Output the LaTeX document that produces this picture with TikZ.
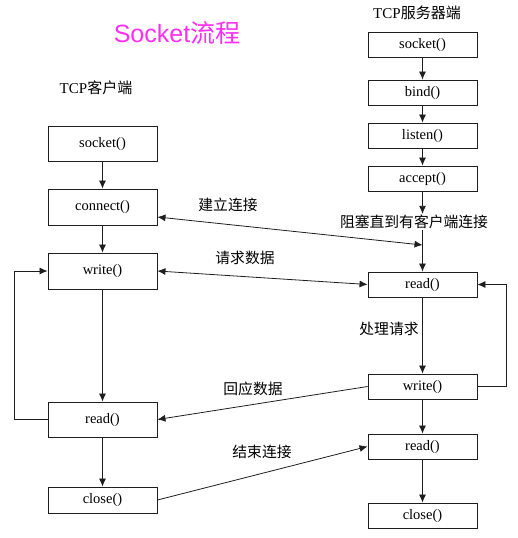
\documentclass[tikz,border=0pt]{standalone}
\usepackage{fontspec}
\setmainfont{Liberation Serif}
\setsansfont{Liberation Sans}
\newfontfamily\cjk{Noto Sans CJK SC}
\usetikzlibrary{arrows.meta}
\definecolor{titlemag}{RGB}{255,45,245}
\definecolor{ln}{RGB}{30,30,30}
\tikzset{
  box/.style={draw=ln, line width=0.9pt, minimum width=109pt, minimum height=25pt, inner sep=0pt, text height=7pt, text depth=0pt, font=\fontsize{14.5}{16}\selectfont},
  lbox/.style={box, minimum height=35pt},
  lab/.style={inner sep=1pt, font=\fontsize{14.8}{16}\selectfont\cjk},
  conn/.style={draw=ln, line width=0.8pt, -{Latex[length=8pt,width=7pt]}},
  biconn/.style={draw=ln, line width=0.8pt, {Latex[length=8pt,width=7pt]}-{Latex[length=8pt,width=7pt]}},
  plain/.style={draw=ln, line width=0.8pt}
}
\begin{document}
\begin{tikzpicture}[x=1pt,y=-1pt]
\useasboundingbox (0,0) rectangle (517,538);
% titles
\node[inner sep=0pt, text=titlemag, font=\fontsize{25}{28}\selectfont] (title) at (177,33) {\sffamily Socket\cjk 流程};
\node[inner sep=0pt, font=\fontsize{15}{17}\selectfont] (client) at (96,88) {TCP{\cjk 客户端}};
\node[inner sep=0pt, font=\fontsize{15}{17}\selectfont] (server) at (417,13) {TCP{\cjk 服务器端}};
% left column
\node[lbox] (lsocket) at (102.5,143.5) {socket()};
\node[lbox, minimum height=36pt] (lconnect) at (102.5,207) {connect()};
\node[lbox, minimum height=36pt] (lwrite) at (102.5,271) {write()};
\node[lbox] (lread) at (102.5,419.5) {read()};
\node[lbox, minimum height=26pt] (lclose) at (102.5,500) {close()};
% right column
\node[box] (rsocket) at (422.5,44.5) {socket()};
\node[box] (rbind) at (422.5,92.5) {bind()};
\node[box] (rlisten) at (422.5,135.5) {listen()};
\node[box] (raccept) at (422.5,178.5) {accept()};
\node[box] (rread) at (422.5,284.5) {read()};
\node[box] (rwrite) at (422.5,386.5) {write()};
\node[box] (rread2) at (422.5,446.5) {read()};
\node[box] (rclose) at (422.5,515.5) {close()};
% labels
\node[lab] (block) at (414,222) {阻塞直到有客户端连接};
\node[lab] (lbjl) at (228,205) {建立连接};
\node[lab] (lbqq) at (245,258) {请求数据};
\node[lab] (lbhy) at (253,389) {回应数据};
\node[lab] (lbjs) at (262,452) {结束连接};
\node[lab] (lbcl) at (389,329) {处理请求};
% left vertical arrows
\draw[conn] (lsocket) -- (lconnect);
\draw[conn] (lconnect) -- (lwrite);
\draw[conn] (lwrite) -- (lread);
\draw[conn] (lread) -- (lclose);
% right vertical arrows
\draw[conn] (rsocket) -- (rbind);
\draw[conn] (rbind) -- (rlisten);
\draw[conn] (rlisten) -- (raccept);
\draw[conn] (raccept.south) -- (raccept.south |- block.north);
\draw[conn] (raccept.south |- block.south) -- (rread.north);
\draw[conn] (rread) -- (rwrite);
\draw[conn] (rwrite) -- (rread2);
\draw[conn] (rread2) -- (rclose);
% cross connectors
\coordinate (cj) at (422.5,245);
\draw[biconn] ([yshift=-10pt]lconnect.east) -- (cj);
\draw[biconn] (lwrite.east) -- (rread.west);
\draw[conn] (rwrite.west) -- (lread.east);
\draw[conn] (lclose.east) -- (rread2.west);
% loops
\draw[conn] (lread.west) -- ++(-33,0) |- (lwrite.west);
\draw[conn] (rwrite.east) -- ++(29,0) |- (rread.east);
\end{tikzpicture}
\end{document}
